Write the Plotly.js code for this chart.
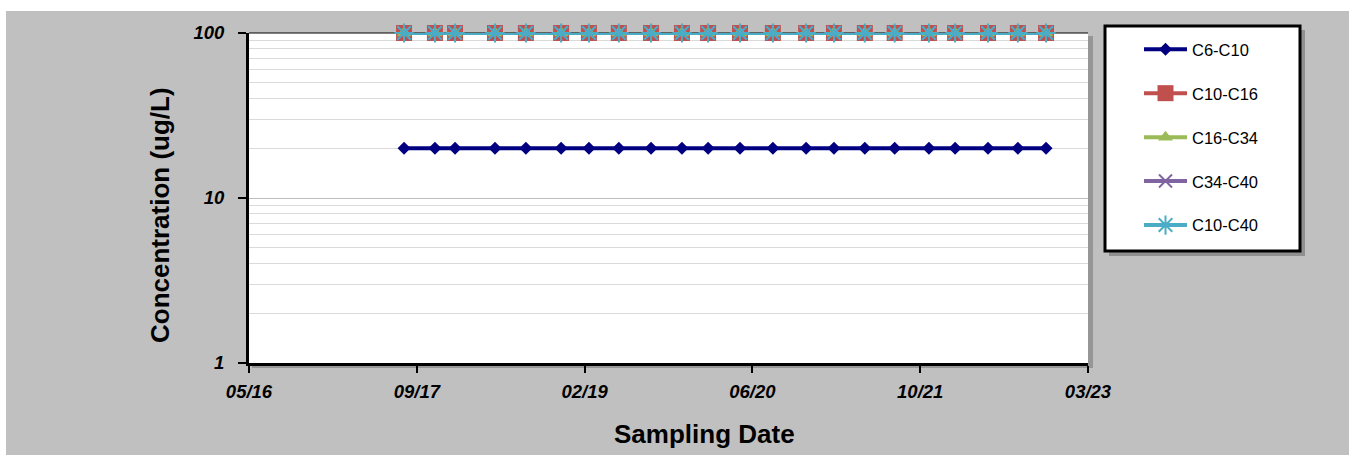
<!DOCTYPE html>
<html>
<head>
<meta charset="utf-8">
<script src="https://cdn.plot.ly/plotly-3.0.1.min.js"></script>
<style>html,body{margin:0;padding:0;background:#fff;}#chart{width:1349px;height:455px;}</style>
</head>
<body>
<div id="chart"></div>
<script>
// ---- data ----
const sampleDates = ['2017-08-15','2017-11-15','2018-01-14','2018-05-13','2018-08-13','2018-11-26',
  '2019-02-17','2019-05-17','2019-08-21','2019-11-21','2020-02-07','2020-05-12','2020-08-18',
  '2020-11-25','2021-02-16','2021-05-19','2021-08-16','2021-11-26','2022-02-12','2022-05-21',
  '2022-08-18','2022-11-10'];
const c6_c10  = [20,20,20,20,20,20,20,20,20,20,20,20,20,20,20,20,20,20,20,20,20,20];
const c10_c16 = [100,100,100,100,100,100,100,100,100,100,100,100,100,100,100,100,100,100,100,100,100,100];
const c16_c34 = [100,100,100,100,100,100,100,100,100,100,100,100,100,100,100,100,100,100,100,100,100,100];
const c34_c40 = [100,100,100,100,100,100,100,100,100,100,100,100,100,100,100,100,100,100,100,100,100,100];
const c10_c40 = [100,100,100,100,100,100,100,100,100,100,100,100,100,100,100,100,100,100,100,100,100,100];
const seriesNames = ['C6-C10','C10-C16','C16-C34','C34-C40','C10-C40'];
const xRange = ['2016-05-10','2023-03-15'];
const xTick0 = '2016-05-10';
const yTitle = 'Concentration (ug/L)';
const xTitle = 'Sampling Date';

const FONT = 'Liberation Sans, Arial, sans-serif';
const DAY = 86400000;

function tr(name, y, color, symbol, msize, mline, group) {
  const marker = {symbol: symbol, size: msize, color: color};
  if (mline) marker.line = {color: color, width: mline};
  return {
    x: sampleDates, y: y, name: name, type: 'scatter', mode: 'lines+markers',
    line: {color: color, width: 4}, marker: marker, cliponaxis: false,
    legendgroup: group, xaxis: 'x', yaxis: 'y'
  };
}

const data = [
  tr(seriesNames[0], c6_c10,  '#000080', 'diamond', 10, 0, 'g1'),
  tr(seriesNames[1], c10_c16, '#C0504D', 'square', 16, 0, 'g2'),
  tr(seriesNames[2], c16_c34, '#9BBB59', 'triangle-up', 13, 0, 'g3'),
  tr(seriesNames[3], c34_c40, '#8064A2', 'x-thin-open', 13, 2, 'g4'),
  tr(seriesNames[4], c10_c40, '#4BACC6', 'asterisk-open', 16, 2, 'g5')
];

const X = px => (px - 249) / 839;
const Y = py => (363 - py) / 330;

const layout = {
  width: 1349, height: 455,
  margin: {l: 249, r: 261, t: 33, b: 92, pad: 0},
  paper_bgcolor: '#ffffff',
  plot_bgcolor: 'rgba(0,0,0,0)',
  font: {family: FONT, color: '#000'},
  showlegend: true,
  legend: {
    x: X(1139), y: Y(32), xanchor: 'left', yanchor: 'top',
    bgcolor: 'rgba(0,0,0,0)', borderwidth: 0,
    font: {family: FONT, size: 16.5, color: '#000'},
    tracegroupgap: 19.5, itemwidth: 43
  },
  xaxis: {
    type: 'date', range: xRange, tick0: xTick0, dtick: 500 * DAY, tickformat: '%m/%y',
    ticks: 'outside', ticklen: 7, tickwidth: 2, tickcolor: '#000',
    showline: true, linewidth: 3, linecolor: '#000', showgrid: false, zeroline: false,
    ticklabelstandoff: 3,
    tickfont: {family: FONT, size: 18.5, weight: 'bold', style: 'italic', color: '#000'},
    fixedrange: true
  },
  xaxis2: {
    type: 'date', range: xRange, tick0: xTick0, dtick: 500 * DAY, overlaying: 'x', anchor: 'y',
    side: 'bottom', ticks: 'inside', ticklen: 6, tickwidth: 2, tickcolor: '#000',
    showticklabels: false, showline: false, showgrid: false, zeroline: false
  },
  yaxis: {
    type: 'log', range: [0, 2], dtick: 1,
    ticks: 'outside', ticklen: 8, tickwidth: 2, tickcolor: '#000',
    showline: true, linewidth: 3, linecolor: '#000',
    showgrid: true, gridcolor: '#bdbdbd', gridwidth: 1, zeroline: false,
    minor: {dtick: 'D1', showgrid: true, gridcolor: '#dadada', gridwidth: 1, ticks: ''},
    ticklabelstandoff: 10,
    tickfont: {family: FONT, size: 18.5, weight: 'bold', style: 'italic', color: '#000'}
  },
  shapes: [
    {type: 'rect', xref: 'paper', yref: 'paper', x0: X(6), x1: X(1349), y0: Y(455), y1: Y(11),
      fillcolor: '#c0c0c0', line: {width: 0}, layer: 'below'},
    {type: 'rect', xref: 'paper', yref: 'paper', x0: X(252), x1: X(1093), y0: Y(368), y1: Y(36),
      fillcolor: 'rgba(0,0,0,0.22)', line: {width: 0}, layer: 'below'},
    {type: 'rect', xref: 'paper', yref: 'paper', x0: 0, x1: 1, y0: 0, y1: 1,
      fillcolor: '#ffffff', line: {width: 0}, layer: 'below'},
    {type: 'line', xref: 'paper', yref: 'paper', x0: 0, x1: 1, y0: 1, y1: 1,
      line: {color: '#000', width: 1}, layer: 'below'},
    {type: 'rect', xref: 'paper', yref: 'paper', x0: X(1109), x1: X(1305), y0: Y(256), y1: Y(30),
      fillcolor: 'rgba(0,0,0,0.25)', line: {width: 0}, layer: 'below'},
    {type: 'rect', xref: 'paper', yref: 'paper', x0: X(1105), x1: X(1300), y0: Y(251), y1: Y(26),
      fillcolor: '#ffffff', line: {color: '#000', width: 3}, layer: 'below'}
  ],
  annotations: [
    {text: xTitle, xref: 'paper', yref: 'paper', x: X(704), y: Y(434), showarrow: false,
      xanchor: 'center', yanchor: 'middle', font: {family: FONT, size: 26, weight: 'bold', color: '#000'}},
    {text: yTitle, xref: 'paper', yref: 'paper', x: X(160), y: Y(215), showarrow: false, textangle: -90,
      xanchor: 'center', yanchor: 'middle', font: {family: FONT, size: 26, weight: 'bold', color: '#000'}}
  ]
};

Plotly.newPlot('chart', data, layout, {displayModeBar: false, staticPlot: true});
</script>
</body>
</html>
